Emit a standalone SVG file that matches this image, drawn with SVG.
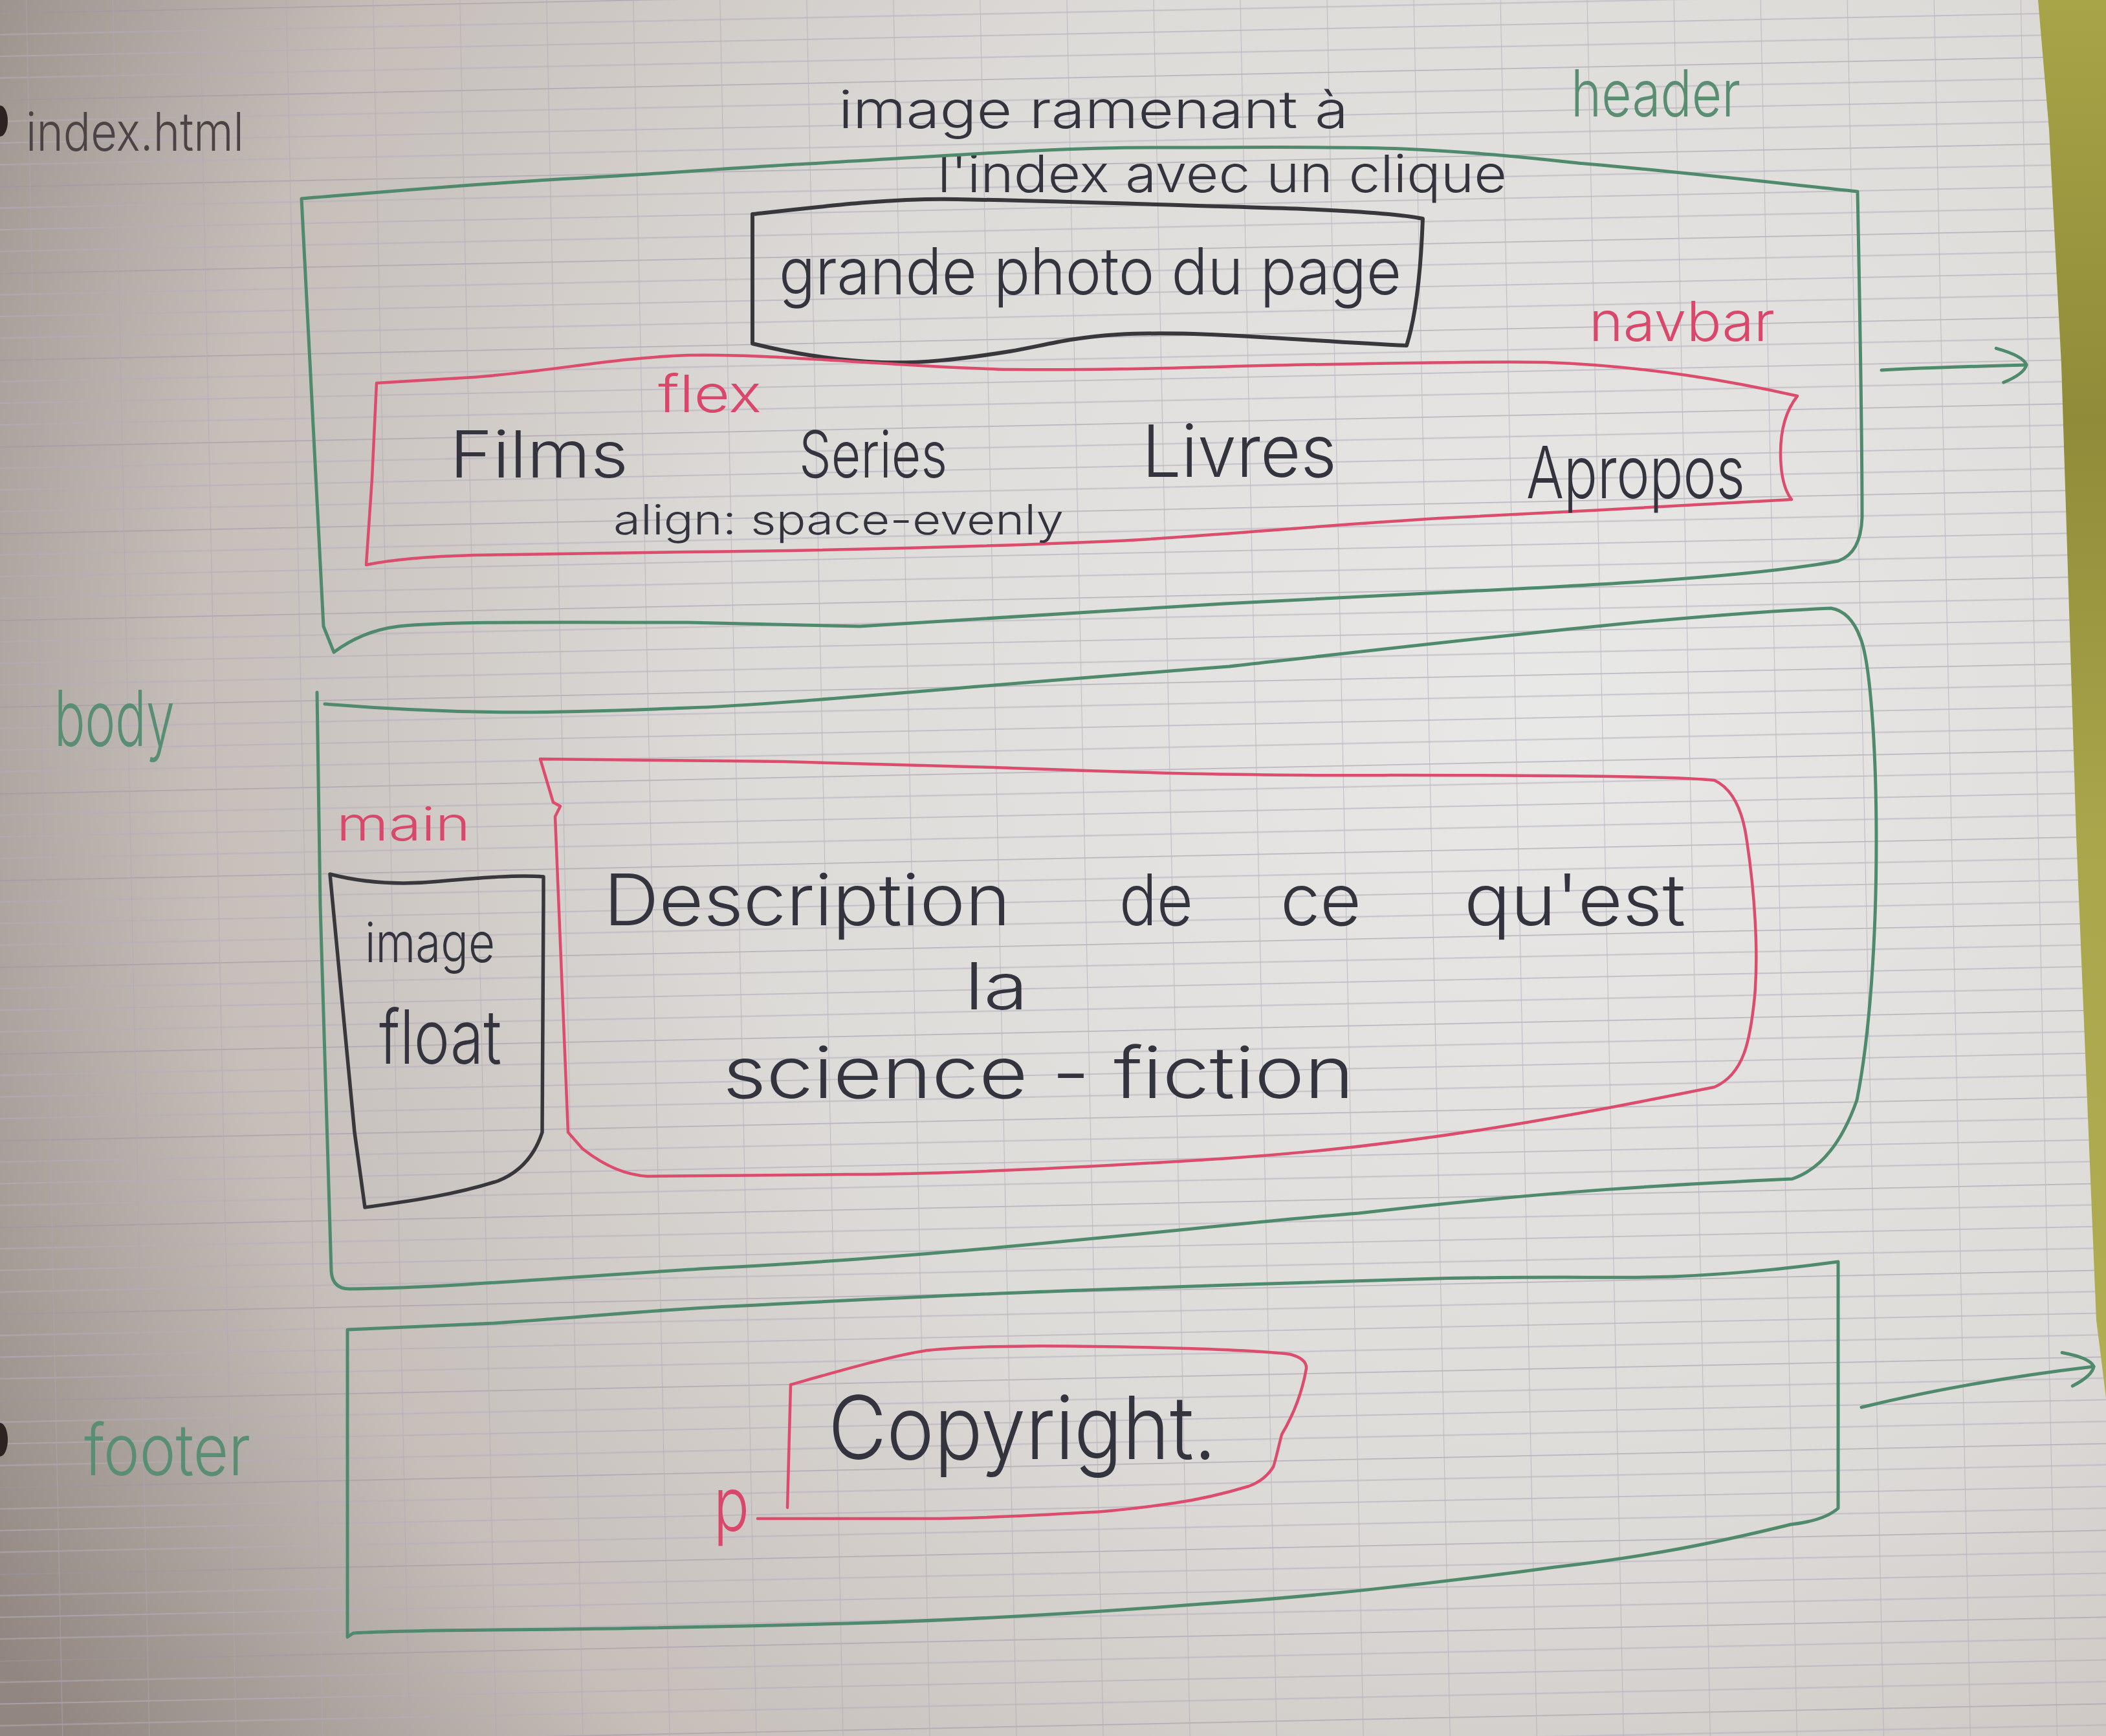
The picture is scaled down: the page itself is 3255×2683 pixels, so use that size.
<svg xmlns="http://www.w3.org/2000/svg" width="3255" height="2683" viewBox="0 0 3255 2683">
  <defs>
    <style>
      .txt { font-family: "Inter", "Liberation Sans", "DejaVu Sans", sans-serif; font-weight: 300; }
      .ink { fill: #34343f; }
      .pencil { fill: #4a4446; }
      .grn { fill: #5a8e72; }
      .red { fill: #d9486a; }
      .box-green { fill: none; stroke: #4f8a6c; stroke-width: 5; stroke-linejoin: round; stroke-linecap: round; }
      .box-red { fill: none; stroke: #dc4c6c; stroke-width: 4.5; stroke-linejoin: round; stroke-linecap: round; }
      .box-black { fill: none; stroke: #38383c; stroke-width: 6; stroke-linejoin: round; stroke-linecap: round; }
      .arrow { fill: none; stroke: #4f8a6c; stroke-width: 5; stroke-linecap: round; }
    </style>
    <radialGradient id="paperShade" gradientUnits="userSpaceOnUse" cx="2400" cy="1100" r="2800">
      <stop offset="0" stop-color="#e8e8e6"/>
      <stop offset="0.45" stop-color="#dddbd8"/>
      <stop offset="0.75" stop-color="#c5beb9"/>
      <stop offset="1" stop-color="#918780"/>
    </radialGradient>
    <linearGradient id="cloth" x1="0" y1="0" x2="0" y2="1">
      <stop offset="0" stop-color="#a8a448"/>
      <stop offset="0.3" stop-color="#8f8b38"/>
      <stop offset="0.6" stop-color="#a9a64c"/>
      <stop offset="1" stop-color="#b0ad52"/>
    </linearGradient>
    <!-- Seyès ruling: one 134px square with three fine lines -->
    <pattern id="ruling" patternUnits="userSpaceOnUse" width="134" height="134" patternTransform="rotate(-1.2) translate(40 20)">
      <line x1="0" y1="0" x2="134" y2="0" stroke="#9d94a8" stroke-width="3"/>
      <line x1="0" y1="33.5" x2="134" y2="33.5" stroke="#b4adbd" stroke-width="1.8"/>
      <line x1="0" y1="67" x2="134" y2="67" stroke="#b4adbd" stroke-width="1.8"/>
      <line x1="0" y1="100.5" x2="134" y2="100.5" stroke="#b4adbd" stroke-width="1.8"/>
      <line x1="0" y1="0" x2="0" y2="134" stroke="#aea6b8" stroke-width="2.2"/>
    </pattern>
    <marker id="head" markerUnits="userSpaceOnUse" markerWidth="80" markerHeight="80" viewBox="0 0 80 80" refX="62" refY="40" orient="auto">
      <path d="M16,13 Q58,26 62,40 Q58,54 26,66" fill="none" stroke="#4f8a6c" stroke-width="5" stroke-linecap="round"/>
    </marker>
  </defs>

  <!-- paper -->
  <rect x="0" y="0" width="3255" height="2683" fill="url(#paperShade)"/>
  <rect x="0" y="0" width="3255" height="2683" fill="url(#ruling)" opacity="0.65"/>
  <!-- fabric beyond the sheet edge -->
  <polygon points="3150,0 3255,0 3255,2160 3240,2040 3209,1291 3186,564 3167,200" fill="url(#cloth)"/>
  <!-- punched holes at the margin -->
  <ellipse cx="0" cy="187" rx="12" ry="24" fill="#2b2422"/>
  <ellipse cx="0" cy="2225" rx="12" ry="26" fill="#2b2422"/>

  <!-- page annotations -->
  <g id="file-label">
    <text class="txt pencil" x="40" y="233" font-size="82" textLength="337" lengthAdjust="spacingAndGlyphs">index.html</text>
  </g>
  <g id="logo-note">
    <text class="txt ink" x="1296" y="198" font-size="80" textLength="788" lengthAdjust="spacingAndGlyphs">image ramenant à</text>
    <text class="txt ink" x="1449" y="297" font-size="80" textLength="880" lengthAdjust="spacingAndGlyphs">l'index avec un clique</text>
  </g>

  <!-- header -->
  <g id="header">
    <path class="box-green" d="M 466,307 C 600,296 760,282 900,275 C 1030,268 1150,258 1250,253 C 1450,242 1620,228 1786,228 C 1950,228 2070,226 2168,230 C 2300,236 2380,246 2450,253 C 2600,266 2720,280 2871,296 C 2874,450 2878,650 2878,800 Q 2876,855 2841,867 C 2700,893 2450,905 2224,916 C 2050,925 1950,930 1892,933 C 1650,948 1450,962 1329,968 C 1200,965 1100,962 1063,962 C 850,962 700,960 616,968 Q 560,975 516,1008 L 500,968 L 466,307 Z"/>
    <text class="txt grn" x="2428" y="180" font-size="100" textLength="262" lengthAdjust="spacingAndGlyphs">header</text>
  </g>

  <g id="header-photo">
    <path class="box-black" d="M 1163,331 C 1280,318 1380,306 1480,308 C 1650,311 1850,318 2015,323 C 2110,327 2170,332 2199,338 C 2196,420 2188,490 2174,534 C 2000,526 1850,510 1727,517 C 1650,522 1610,535 1561,543 C 1480,556 1420,562 1362,560 C 1280,556 1220,545 1163,531 Z"/>
    <text class="txt ink" x="1204" y="455" font-size="100" textLength="962" lengthAdjust="spacingAndGlyphs">grande photo du page</text>
  </g>

  <g id="navbar">
    <path class="box-red" d="M 582,592 C 650,588 700,585 732,583 C 850,574 950,553 1063,549 C 1200,546 1400,568 1561,571 C 1750,573 1900,565 2058,563 C 2200,561 2300,558 2390,560 C 2550,566 2680,590 2778,612 Q 2752,645 2752,700 Q 2752,750 2769,772 C 2600,782 2400,792 2224,801 C 2000,815 1850,830 1727,836 C 1500,846 1250,851 1063,853 C 900,855 800,857 732,858 C 660,860 600,866 566,873 L 575,740 L 582,592 Z"/>
    <text class="txt red" x="2456" y="527" font-size="85" textLength="287" lengthAdjust="spacingAndGlyphs">navbar</text>
    <text class="txt red" x="1017" y="637" font-size="80" textLength="160" lengthAdjust="spacingAndGlyphs">flex</text>
    <text class="txt ink" x="695" y="738" font-size="100" textLength="276" lengthAdjust="spacingAndGlyphs">Films</text>
    <text class="txt ink" x="1235" y="738" font-size="100" textLength="229" lengthAdjust="spacingAndGlyphs">Series</text>
    <text class="txt ink" x="1765" y="737" font-size="112" textLength="301" lengthAdjust="spacingAndGlyphs">Livres</text>
    <text class="txt ink" x="2359" y="770" font-size="112" textLength="338" lengthAdjust="spacingAndGlyphs">Apropos</text>
    <text class="txt ink" x="948" y="826" font-size="64" textLength="696" lengthAdjust="spacingAndGlyphs">align: space-evenly</text>
  </g>

  <!-- body -->
  <g id="body">
    <path class="box-green" d="M 490,1070 L 495,1400 L 512,1965 Q 514,1992 540,1992 C 700,1990 900,1972 1100,1960 C 1500,1940 1900,1890 2100,1875 C 2400,1840 2600,1830 2770,1822 Q 2835,1800 2870,1700 C 2890,1600 2900,1450 2900,1300 C 2900,1150 2890,1020 2875,985 Q 2860,945 2830,940 C 2600,950 2300,985 1900,1030 C 1500,1060 1200,1090 1063,1094 C 900,1100 750,1108 502,1088"/>
    <text class="txt grn" x="84" y="1153" font-size="120" textLength="186" lengthAdjust="spacingAndGlyphs">body</text>
  </g>

  <g id="main">
    <path class="box-red" d="M 835,1173 C 1000,1174 1100,1176 1209,1177 C 1350,1181 1450,1184 1535,1186 C 1650,1190 1760,1194 1860,1196 C 1980,1198 2080,1199 2150,1198 C 2400,1198 2600,1200 2650,1206 Q 2690,1225 2700,1300 C 2712,1380 2718,1470 2712,1540 C 2705,1610 2695,1660 2650,1680 C 2450,1720 2200,1770 1900,1790 C 1650,1806 1450,1815 1311,1815 C 1150,1816 1050,1818 1001,1818 Q 950,1815 900,1775 L 878,1750 L 858,1262 L 866,1246 L 855,1240 L 835,1173 Z"/>
    <text class="txt red" x="520" y="1299" font-size="72" textLength="207" lengthAdjust="spacingAndGlyphs">main</text>
    <text class="txt ink" y="1430" font-size="110"><tspan x="933" textLength="629" lengthAdjust="spacingAndGlyphs">Description</tspan><tspan x="1730" textLength="114" lengthAdjust="spacingAndGlyphs">de</tspan><tspan x="1979" textLength="125" lengthAdjust="spacingAndGlyphs">ce</tspan><tspan x="2263" textLength="342" lengthAdjust="spacingAndGlyphs">qu'est</tspan></text>
    <text class="txt ink" x="1491" y="1560" font-size="100" textLength="98" lengthAdjust="spacingAndGlyphs">la</text>
    <text class="txt ink" x="1117" y="1697" font-size="110" textLength="976" lengthAdjust="spacingAndGlyphs">science - fiction</text>
  </g>

  <g id="image-float">
    <path class="box-black" style="stroke-width:5.5" d="M 510,1351 C 560,1364 620,1368 680,1362 C 750,1356 800,1352 840,1355 C 840,1500 839,1650 838,1750 Q 820,1805 770,1825 C 700,1848 620,1858 564,1866 L 548,1750 L 510,1351 Z"/>
    <text class="txt ink" x="564" y="1487" font-size="85" textLength="201" lengthAdjust="spacingAndGlyphs">image</text>
    <text class="txt ink" x="586" y="1644" font-size="115" textLength="189" lengthAdjust="spacingAndGlyphs">float</text>
  </g>

  <!-- footer -->
  <g id="footer">
    <path class="box-green" d="M 537,2055 C 600,2052 700,2048 764,2045 C 900,2036 1000,2025 1128,2019 C 1300,2010 1500,2000 1675,1994 C 1850,1988 2050,1980 2221,1976 C 2400,1972 2500,1976 2586,1973 C 2700,1968 2780,1958 2841,1950 L 2841,2331 Q 2820,2350 2768,2356 C 2650,2385 2550,2405 2403,2422 C 2200,2450 2000,2470 1857,2479 C 1650,2495 1450,2505 1311,2509 C 1050,2516 900,2518 764,2519 C 650,2520 580,2522 546,2524 L 537,2530 L 537,2055 Z"/>
    <text class="txt grn" x="130" y="2280" font-size="110" textLength="257" lengthAdjust="spacingAndGlyphs">footer</text>
  </g>

  <g id="copyright">
    <path class="box-red" d="M 1222,2140 C 1300,2118 1380,2095 1433,2087 C 1520,2078 1650,2080 1752,2082 C 1850,2084 1943,2087 1994,2093 Q 2020,2100 2019,2115 C 2013,2150 2000,2185 1981,2217 C 1975,2240 1972,2255 1968,2267 Q 1955,2288 1930,2297 C 1880,2312 1850,2318 1815,2323 C 1750,2332 1720,2335 1688,2337 C 1600,2342 1500,2347 1433,2347 C 1350,2347 1280,2347 1241,2347 L 1171,2347 M 1222,2140 L 1217,2330"/>
    <text class="txt ink" x="1280" y="2255" font-size="135" textLength="600" lengthAdjust="spacingAndGlyphs">Copyright.</text>
    <text class="txt red" x="1103" y="2366" font-size="115" textLength="55" lengthAdjust="spacingAndGlyphs">p</text>
  </g>

  <!-- connectors -->
  <g id="connectors">
    <path class="arrow" d="M 2908,572 C 2980,568 3060,566 3132,564" marker-end="url(#head)"/>
    <path class="arrow" d="M 2877,2175 C 2980,2150 3100,2128 3236,2112" marker-end="url(#head)"/>
  </g>
</svg>
